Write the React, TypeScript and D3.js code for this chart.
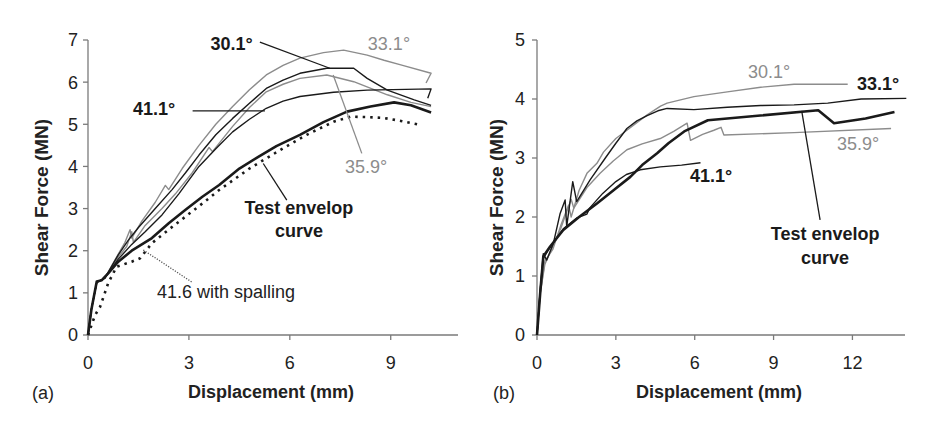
import React from 'react'
import * as d3 from 'd3'

type Pt = [number, number]

// panel (a): displacement (mm) vs shear force (MN)
const envelopeA: Pt[] = [[0, 0], [0.1, 0.6], [0.26, 1.27], [0.41, 1.3], [0.6, 1.46], [0.9, 1.74], [1.3, 2.0], [1.9, 2.3], [2.4, 2.65], [2.9, 2.97], [3.4, 3.28], [3.9, 3.56], [4.5, 3.95], [5.05, 4.22], [5.6, 4.48], [6.3, 4.75], [7.0, 5.05], [7.7, 5.3], [8.4, 5.42], [9.1, 5.52], [9.6, 5.45], [10.2, 5.28]]
const spallingA: Pt[] = [[0, 0], [0.21, 0.47], [0.36, 0.67], [0.6, 1.23], [0.85, 1.62], [1.3, 1.74], [1.55, 1.82], [1.9, 2.18], [2.4, 2.5], [2.9, 2.81], [3.4, 3.12], [3.9, 3.44], [4.8, 3.95], [5.8, 4.43], [6.5, 4.75], [7.3, 5.06], [7.8, 5.18], [8.3, 5.17], [8.8, 5.15], [9.3, 5.08], [9.9, 4.98]]
const deg331A: Pt[] = [[0, 0], [0.1, 0.6], [0.26, 1.25], [0.5, 1.35], [0.85, 1.85], [1.1, 2.2], [1.25, 2.5], [1.3, 2.3], [1.6, 2.7], [2.0, 3.15], [2.3, 3.55], [2.4, 3.45], [2.8, 3.95], [3.3, 4.5], [3.8, 5.0], [4.3, 5.42], [4.8, 5.82], [5.3, 6.17], [5.8, 6.4], [6.3, 6.57], [7.0, 6.7], [7.6, 6.76], [8.3, 6.64], [8.8, 6.52], [9.3, 6.41], [10.2, 6.21], [10.05, 5.98]]
const deg301A: Pt[] = [[0, 0], [0.1, 0.6], [0.26, 1.25], [0.5, 1.35], [0.9, 1.9], [1.2, 2.25], [1.5, 2.55], [2.0, 3.0], [2.5, 3.45], [2.9, 3.85], [3.3, 4.27], [3.8, 4.75], [4.3, 5.14], [4.8, 5.5], [5.3, 5.85], [5.8, 6.05], [6.3, 6.21], [7.1, 6.33], [7.9, 6.33], [8.3, 6.09], [8.9, 5.81], [9.7, 5.58], [10.2, 5.45]]
const deg359A: Pt[] = [[0, 0], [0.1, 0.6], [0.26, 1.25], [0.5, 1.35], [0.9, 1.85], [1.15, 2.1], [1.3, 2.45], [1.35, 2.2], [1.7, 2.6], [2.2, 3.0], [2.6, 3.35], [3.1, 3.85], [3.6, 4.45], [3.7, 4.35], [4.3, 4.95], [4.8, 5.4], [5.3, 5.77], [5.8, 5.95], [6.3, 6.09], [7.1, 6.17], [7.9, 6.01], [8.9, 5.7], [9.6, 5.52], [10.2, 5.42]]
const deg411A: Pt[] = [[0, 0], [0.1, 0.6], [0.26, 1.25], [0.5, 1.35], [0.9, 1.8], [1.3, 2.15], [1.7, 2.45], [2.2, 2.85], [2.7, 3.35], [3.3, 4.0], [3.8, 4.42], [4.3, 4.82], [4.8, 5.12], [5.3, 5.38], [5.8, 5.55], [6.3, 5.66], [7.3, 5.76], [8.3, 5.81], [10.2, 5.84], [10.1, 5.62]]

// panel (b)
const envelopeB: Pt[] = [[0, 0], [0.12, 0.7], [0.24, 1.33], [0.5, 1.5], [1.0, 1.78], [1.6, 2.0], [2.28, 2.23], [2.9, 2.45], [3.55, 2.68], [4.0, 2.88], [4.57, 3.08], [5.0, 3.25], [5.6, 3.45], [6.5, 3.64], [8.5, 3.72], [10.7, 3.81], [11.3, 3.59], [12.5, 3.67], [13.6, 3.78]]
const deg411B: Pt[] = [[0, 0], [0.12, 0.75], [0.24, 1.3], [0.4, 1.42], [0.7, 1.62], [1.0, 1.8], [1.5, 1.98], [1.9, 2.05], [2.0, 2.15], [2.5, 2.4], [3.0, 2.6], [3.4, 2.72], [3.93, 2.8], [4.69, 2.85], [5.5, 2.88], [6.22, 2.92]]
const deg331B: Pt[] = [[0, 0], [0.12, 0.75], [0.24, 1.38], [0.37, 1.27], [0.62, 1.55], [0.88, 2.06], [1.07, 2.29], [1.13, 1.84], [1.36, 2.6], [1.51, 2.26], [2.02, 2.63], [2.6, 3.0], [3.0, 3.25], [3.42, 3.5], [3.8, 3.63], [4.19, 3.72], [4.6, 3.8], [4.95, 3.84], [5.97, 3.82], [7.24, 3.86], [8.51, 3.89], [9.78, 3.9], [11.06, 3.93], [12.33, 4.0], [14.05, 4.01]]
const deg301B: Pt[] = [[0, 0], [0.12, 0.7], [0.3, 1.25], [0.6, 1.45], [0.9, 1.85], [1.2, 2.2], [1.3, 2.0], [1.6, 2.45], [1.9, 2.74], [2.28, 2.91], [2.53, 3.1], [3.0, 3.33], [3.42, 3.47], [4.19, 3.73], [4.7, 3.88], [4.95, 3.93], [5.97, 4.04], [7.24, 4.12], [8.51, 4.2], [9.78, 4.25], [11.82, 4.25]]
const deg359B: Pt[] = [[0, 0], [0.12, 0.7], [0.3, 1.2], [0.6, 1.5], [0.9, 1.8], [1.1, 2.05], [1.3, 2.3], [1.4, 2.15], [1.9, 2.5], [2.4, 2.74], [2.9, 2.95], [3.42, 3.14], [4.0, 3.24], [4.69, 3.33], [5.2, 3.45], [5.71, 3.59], [5.84, 3.3], [6.3, 3.4], [6.73, 3.47], [7.0, 3.52], [7.11, 3.39], [9.78, 3.43], [13.47, 3.5]]

const ticksAX = [0, 3, 6, 9]
const ticksAY = [0, 1, 2, 3, 4, 5, 6, 7]
const ticksBX = [0, 3, 6, 9, 12]
const ticksBY = [0, 1, 2, 3, 4, 5]

const BLACK = '#1a1a1a'
const GRAY = '#8c8c8c'
const AXIS = '#7a7a7a'
const FONT = '"Liberation Sans", Arial, sans-serif'

interface Series { pts: Pt[]; color: string; width: number; dash?: string }
interface Label { text: string; x: number; y: number; color: string; bold?: boolean; anchor?: 'start' | 'middle' | 'end' }
interface Leader { from: Pt; to: Pt; color: string; dash?: string }

interface PanelProps {
  xDomain: [number, number]
  yDomain: [number, number]
  xRange: [number, number]
  yRange: [number, number]
  xTicks: number[]
  yTicks: number[]
  series: Series[]
  labels: Label[]
  leaders: Leader[]
  tag: string
  tagX: number
  titleX: number
  tickGap: number
}

function Panel({ xDomain, yDomain, xRange, yRange, xTicks, yTicks, series, labels, leaders, tag, tagX, titleX, tickGap }: PanelProps) {
  const x = d3.scaleLinear().domain(xDomain).range(xRange)
  const y = d3.scaleLinear().domain(yDomain).range(yRange)
  const line = d3.line<Pt>().x(d => x(d[0])).y(d => y(d[1]))
  const midX = (xRange[0] + xRange[1]) / 2 - 2
  const midY = (yRange[0] + yRange[1]) / 2 + 10

  return (
    <g fontFamily={FONT}>
      {/* axes */}
      <line x1={xRange[0]} x2={xRange[1]} y1={yRange[0]} y2={yRange[0]} stroke={AXIS} strokeWidth={1.3} />
      <line x1={xRange[0]} x2={xRange[0]} y1={yRange[0]} y2={yRange[1]} stroke={AXIS} strokeWidth={1.3} />
      {xTicks.map(t => (
        <g key={'xt' + t}>
          <line x1={x(t)} x2={x(t)} y1={yRange[0]} y2={yRange[0] + 5} stroke={AXIS} strokeWidth={1.3} />
          <text x={x(t)} y={369} textAnchor="middle" fontSize={18} fill="#222">{t}</text>
        </g>
      ))}
      {yTicks.map(t => (
        <g key={'yt' + t}>
          <line x1={xRange[0] - 5} x2={xRange[0]} y1={y(t)} y2={y(t)} stroke={AXIS} strokeWidth={1.3} />
          <text x={xRange[0] - tickGap} y={y(t)} dy="0.36em" textAnchor="end" fontSize={18} fill="#222">{t}</text>
        </g>
      ))}

      {/* curves */}
      {series.map((s, i) => (
        <path key={i} d={line(s.pts) || ''} fill="none" stroke={s.color} strokeWidth={s.width}
          strokeDasharray={s.dash} strokeLinejoin="round" />
      ))}

      {/* leader lines */}
      {leaders.map((l, i) => (
        <line key={'ld' + i} x1={x(l.from[0])} y1={y(l.from[1])} x2={x(l.to[0])} y2={y(l.to[1])}
          stroke={l.color} strokeWidth={1.3} strokeDasharray={l.dash} />
      ))}

      {/* labels */}
      {labels.map((l, i) => (
        <text key={'lb' + i} x={x(l.x)} y={y(l.y)} fill={l.color} fontSize={18}
          fontWeight={l.bold ? 'bold' : 'normal'} textAnchor={l.anchor || 'start'}>{l.text}</text>
      ))}

      {/* axis titles */}
      <text x={midX} y={398} textAnchor="middle" fontSize={18} fontWeight="bold" fill="#222">
        Displacement (mm)
      </text>
      <text transform={`translate(${titleX},${midY}) rotate(-90)`} textAnchor="middle" fontSize={19}
        fontWeight="bold" fill="#222">Shear Force (MN)</text>
      <text x={tagX} y={399} fontSize={18} fill="#222">{tag}</text>
    </g>
  )
}

export default function App() {
  const seriesA: Series[] = [
    { pts: deg331A, color: GRAY, width: 1.4 },
    { pts: deg359A, color: GRAY, width: 1.4 },
    { pts: deg301A, color: BLACK, width: 1.4 },
    { pts: deg411A, color: BLACK, width: 1.4 },
    { pts: spallingA, color: BLACK, width: 2.6, dash: '2.5 5' },
    { pts: envelopeA, color: BLACK, width: 2.6 },
  ]
  const labelsA: Label[] = [
    { text: '30.1°', x: 4.9, y: 6.76, color: BLACK, bold: true, anchor: 'end' },
    { text: '33.1°', x: 8.32, y: 6.76, color: GRAY },
    { text: '41.1°', x: 2.59, y: 5.22, color: BLACK, bold: true, anchor: 'end' },
    { text: '35.9°', x: 7.64, y: 3.84, color: GRAY },
    { text: 'Test envelop', x: 6.27, y: 2.87, color: BLACK, bold: true, anchor: 'middle' },
    { text: 'curve', x: 6.27, y: 2.33, color: BLACK, bold: true, anchor: 'middle' },
    { text: '41.6 with spalling', x: 2.05, y: 0.88, color: '#222' },
  ]
  const leadersA: Leader[] = [
    { from: [5.11, 6.95], to: [7.19, 6.33], color: BLACK },
    { from: [3.11, 5.32], to: [5.26, 5.32], color: BLACK },
    { from: [8.14, 4.31], to: [7.29, 6.17], color: GRAY },
    { from: [5.21, 4.07], to: [5.91, 3.2], color: BLACK },
    { from: [3.08, 1.26], to: [1.64, 2.02], color: '#555', dash: '1.2 1.5' },
  ]

  const seriesB: Series[] = [
    { pts: deg301B, color: GRAY, width: 1.4 },
    { pts: deg359B, color: GRAY, width: 1.4 },
    { pts: deg331B, color: BLACK, width: 1.4 },
    { pts: deg411B, color: BLACK, width: 1.4 },
    { pts: envelopeB, color: BLACK, width: 2.6 },
  ]
  const labelsB: Label[] = [
    { text: '30.1°', x: 8.03, y: 4.36, color: GRAY },
    { text: '33.1°', x: 12.17, y: 4.15, color: BLACK, bold: true },
    { text: '35.9°', x: 11.41, y: 3.14, color: GRAY },
    { text: '41.1°', x: 5.82, y: 2.59, color: BLACK, bold: true },
    { text: 'Test envelop', x: 10.96, y: 1.61, color: BLACK, bold: true, anchor: 'middle' },
    { text: 'curve', x: 10.96, y: 1.2, color: BLACK, bold: true, anchor: 'middle' },
  ]
  const leadersB: Leader[] = [
    { from: [10.07, 3.8], to: [10.77, 1.95], color: BLACK },
  ]

  return (
    <svg width={926} height={422} style={{ position: 'absolute', left: 0, top: 0, background: '#fff' }}>
      <rect width={926} height={422} fill="#fff" />
      <Panel xDomain={[0, 11]} yDomain={[0, 7]} xRange={[88, 458]} yRange={[335, 40]}
        xTicks={ticksAX} yTicks={ticksAY} series={seriesA} labels={labelsA} leaders={leadersA}
        tag="(a)" tagX={32} titleX={48} tickGap={10} />
      <Panel xDomain={[0, 14]} yDomain={[0, 5]} xRange={[537, 905]} yRange={[335, 40]}
        xTicks={ticksBX} yTicks={ticksBY} series={seriesB} labels={labelsB} leaders={leadersB}
        tag="(b)" tagX={493} titleX={503} tickGap={12} />
    </svg>
  )
}
